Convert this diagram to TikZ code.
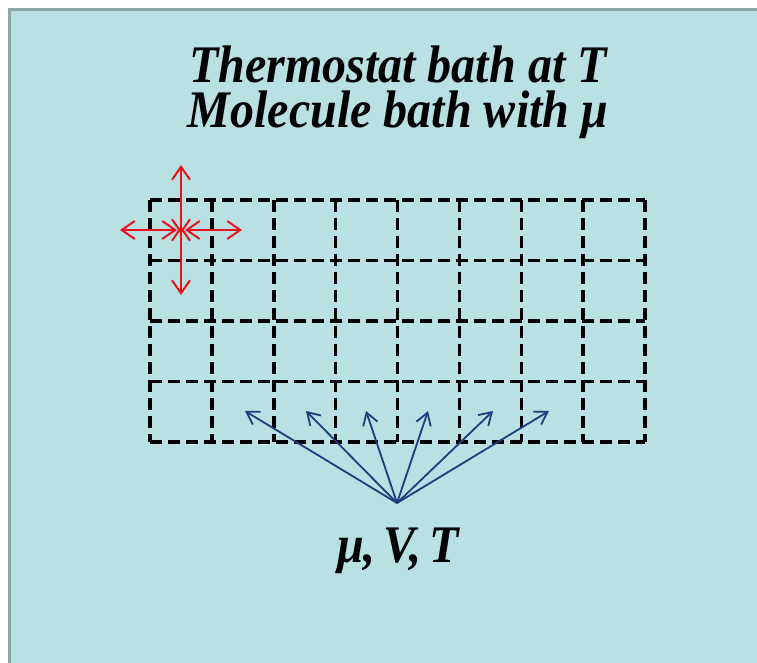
\documentclass[tikz,border=0pt]{standalone}
\usepackage{fontspec}
\setmainfont{Liberation Serif}
\usetikzlibrary{arrows.meta}
\definecolor{bath}{HTML}{B9E0E3}
\definecolor{frame}{HTML}{8EA6A6}
\definecolor{flux}{HTML}{E8141B}
\definecolor{ens}{HTML}{1F3C7C}
\newcommand{\bigtxt}[1]{\fontsize{48}{41}\selectfont\bfseries\itshape #1}

\begin{document}
\begin{tikzpicture}[x=1pt, y=-1pt,
      cellline/.style={line width=3.4pt, dash pattern=on 12pt off 6pt, black},
      redarr/.style={{Straight Barb[length=13pt,width=18pt]}-{Straight Barb[length=13pt,width=18pt]}, line width=2pt, flux},
      bluearr/.style={-{Straight Barb[length=12pt,width=15pt]}, line width=1.8pt, ens},
      title/.style={align=center, font=\bigtxt, yscale=1.1, transform shape, inner sep=0pt}]
    \useasboundingbox (0,0) rectangle (757,662);
    \fill[white] (0,0) rectangle (757,662);
    \clip (0,0) rectangle (757,662);
    \draw[frame, line width=3pt, fill=bath] (9,9) rectangle (780,690);
    % heading
    \node[title] (head) at (398,92) {Thermostat bath at \textit{T}\\ Molecule bath with μ};
    % lattice of cells
    \foreach \yy in {200,260.5,321,381.5,442}
      \draw[cellline] (150,\yy) -- (645,\yy);
    \foreach \xx in {150,211.9,273.8,335.6,397.5,459.4,521.2,583.1,645}
      \draw[cellline] (\xx,200) -- (\xx,442);
    % exchange with the baths
    \coordinate (cell) at (181,230);
    \coordinate (up) at (181,165);   \coordinate (dn) at (181,295);
    \coordinate (lt) at (120,230);   \coordinate (rt) at (242,230);
    \draw[redarr] (up) -- ([yshift=-4pt]cell);
    \draw[redarr] (dn) -- ([yshift=4pt]cell);
    \draw[redarr] (lt) -- ([xshift=-4pt]cell);
    \draw[redarr] (rt) -- ([xshift=4pt]cell);
    % ensemble label
    \node[title] (mvt) at (398,551) {μ,\,\textit{V},\,\textit{T}};
    \coordinate (src) at (397,503);
    \foreach \xx [count=\i] in {245,306,366,428,493,549}
      \coordinate (tip\i) at (\xx,411);
    \foreach \i in {1,...,6}
      \draw[bluearr] (src) -- (tip\i);
  \end{tikzpicture}
\end{document}
